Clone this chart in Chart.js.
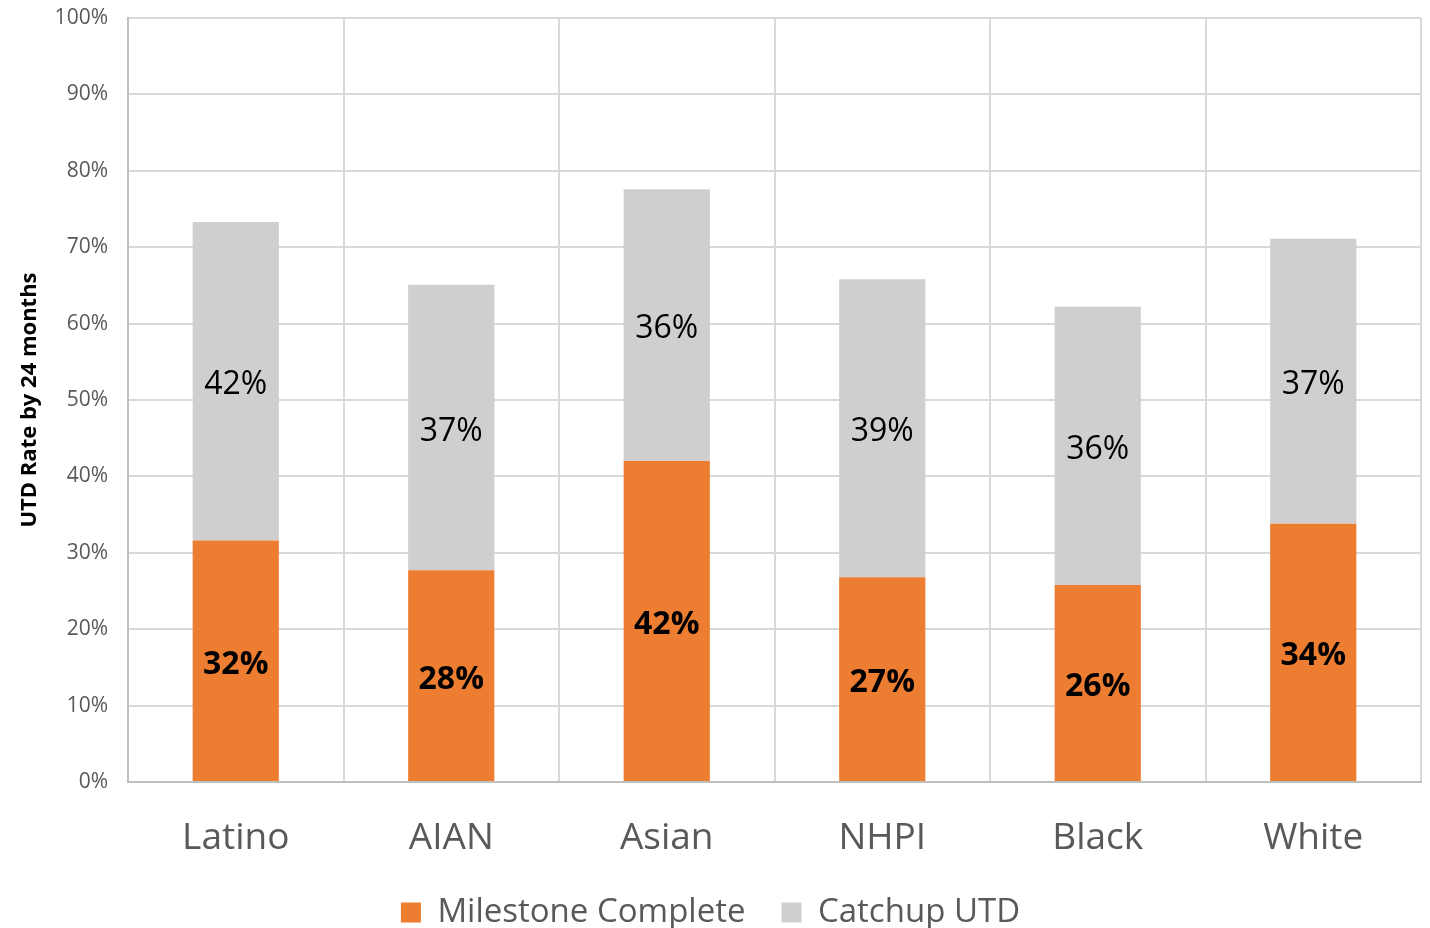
<!DOCTYPE html>
<html>
<head>
<meta charset="utf-8">
<script src="https://cdn.jsdelivr.net/npm/chart.js@4/dist/chart.umd.min.js"></script>
<style>
  html, body { margin: 0; padding: 0; background: #fff; }
  #wrap { width: 1430px; height: 928px; }
</style>
</head>
<body>
<div id="wrap"><canvas id="utd"></canvas></div>
<script>
const groups = ["Latino", "AIAN", "Asian", "NHPI", "Black", "White"]
const milestone = [31.6, 27.7, 42.0, 26.8, 25.8, 33.8]
const catchup = [41.7, 37.4, 35.6, 39.0, 36.4, 37.3]
const yTicks = [0, 10, 20, 30, 40, 50, 60, 70, 80, 90, 100]

const FONT = "'Open Sans', 'Liberation Sans', sans-serif"

// draws the % text in the middle of every segment
const segLabels = {
    id: "segLabels",
    afterDatasetsDraw(chart) {
        const ctx = chart.ctx
        ctx.save()
        ctx.textAlign = "center"
        ctx.textBaseline = "middle"
        ctx.fillStyle = "#000"
        chart.data.datasets.forEach((ds, i) => {
            const meta = chart.getDatasetMeta(i)
            ctx.font = (i === 0 ? "bold " : "") + "32px " + FONT
            meta.data.forEach((bar, j) => {
                const y = (bar.y + bar.base) / 2
                ctx.fillText(Math.round(ds.data[j]) + "%", bar.x, y + 4)
            })
        })
        ctx.restore()
    }
}

// legend padding is big for the gap between items, keep its box short
// and pull it up a bit after layout
const legendBox = {
    id: "legendBox",
    beforeInit(chart) {
        const lg = chart.legend
        if (!lg) return
        const fit = lg.fit
        lg.fit = function () {
            fit.call(this)
            this.height = 46
        }
    },
    afterLayout(chart) {
        const lg = chart.legend
        if (!lg) return
        lg.top = 860
        lg.bottom = 928
        lg.height = 68
    }
}

new Chart(document.querySelector("#utd"), {
    type: "bar",
    data: {
        labels: groups,
        datasets: [{
            label: "Milestone Complete",
            data: milestone,
            backgroundColor: "#ED7D31",
            barPercentage: 0.4,
            categoryPercentage: 1
        }, {
            label: "Catchup UTD",
            data: catchup,
            backgroundColor: "#D0CECE",
            barPercentage: 0.4,
            categoryPercentage: 1
        }]
    },
    options: {
        responsive: true,
        maintainAspectRatio: false,
        animation: false,
        layout: { padding: { top: 18, right: 9, left: 0, bottom: 0 } },
        plugins: {
            tooltip: { enabled: false },
            legend: {
                position: "bottom",
                labels: {
                    font: { family: FONT, size: 33 },
                    color: "#595959",
                    boxWidth: 20,
                    boxHeight: 20,
                    padding: 36
                }
            }
        },
        scales: {
            x: {
                stacked: true,
                grid: { offset: true, color: "#d9d9d9", lineWidth: 2, drawTicks: false },
                border: { color: "#bfbfbf", width: 2 },
                ticks: {
                    font: { family: FONT, size: 37 },
                    color: "#595959",
                    padding: 34
                },
                afterFit: s => { s.height = 100 }
            },
            y: {
                stacked: true,
                min: 0,
                max: 100,
                afterBuildTicks: s => { s.ticks = yTicks.map(v => ({ value: v })) },
                grid: { color: "#d9d9d9", lineWidth: 2, drawTicks: false },
                border: { color: "#bfbfbf", width: 2 },
                ticks: {
                    font: { family: FONT, size: 21 },
                    color: "#595959",
                    padding: 20,
                    callback: v => v + "%"
                },
                title: {
                    display: true,
                    text: "UTD Rate by 24 months",
                    font: { family: FONT, size: 22, weight: "bold" },
                    color: "#000",
                    padding: { top: 17, bottom: 0 }
                },
                afterFit: s => {
                    s.width = 128
                    s.paddingTop = 0
                }
            }
        }
    },
    plugins: [segLabels, legendBox]
})
</script>
</body>
</html>
